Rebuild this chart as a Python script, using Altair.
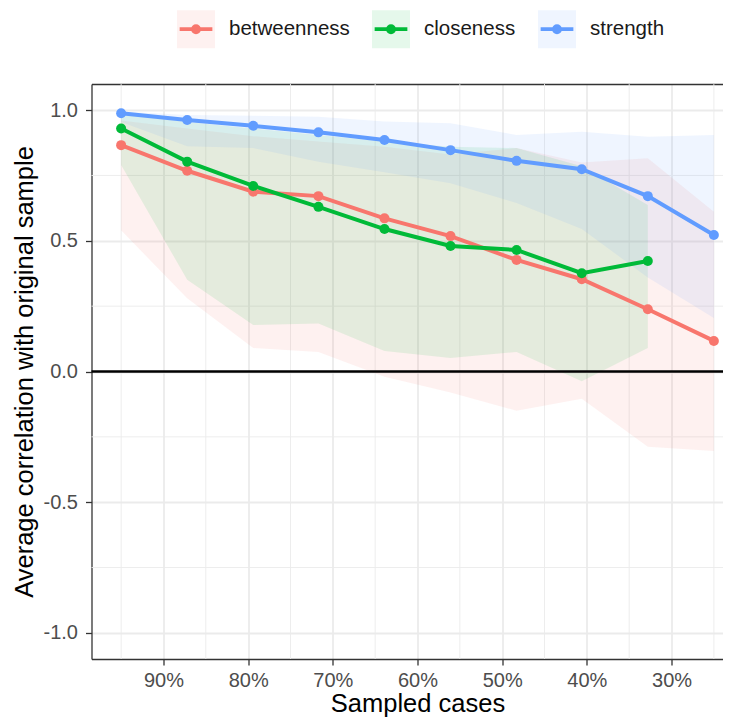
import altair as alt
import pandas as pd

FONT = "Liberation Sans"

series = ["betweenness", "closeness", "strength"]
colors = ["#F8766D", "#00BA38", "#619CFF"]
band_colors = ["rgba(248,118,109,0.1)", "rgba(0,186,56,0.1)", "rgba(97,156,255,0.1)"]

# proportion of sampled cases (%)
sampled = [95.0, 87.2, 79.4, 71.7, 63.9, 56.1, 48.3, 40.6, 32.8, 25.0]

betw_mean = [0.866, 0.768, 0.688, 0.671, 0.586, 0.518, 0.427, 0.353, 0.238, 0.117]
betw_lo = [0.54, 0.28, 0.09, 0.075, -0.02, -0.08, -0.15, -0.104, -0.288, -0.304]
betw_hi = [0.96, 0.93, 0.90, 0.88, 0.86, 0.83, 0.855, 0.80, 0.816, 0.611]

clos_mean = [0.930, 0.803, 0.710, 0.630, 0.545, 0.480, 0.465, 0.376, 0.423]
clos_lo = [0.79, 0.351, 0.178, 0.184, 0.078, 0.052, 0.075, -0.037, 0.09]
clos_hi = [0.985, 0.955, 0.93, 0.905, 0.88, 0.86, 0.855, 0.785, 0.637]

str_mean = [0.988, 0.962, 0.940, 0.915, 0.886, 0.847, 0.806, 0.774, 0.671, 0.522]
str_lo = [0.955, 0.862, 0.855, 0.803, 0.762, 0.72, 0.645, 0.545, 0.36, 0.205]
str_hi = [0.995, 0.981, 0.979, 0.975, 0.957, 0.95, 0.905, 0.917, 0.898, 0.905]

x_major = [90, 80, 70, 60, 50, 40, 30]
x_minor = [95, 85, 75, 65, 55, 45, 35, 25]
y_major = [-1.0, -0.5, 0.0, 0.5, 1.0]
y_minor = [-0.75, -0.25, 0.25, 0.75]
zero_line = [0.0]

rows = []
for name, m, lo, hi in [("betweenness", betw_mean, betw_lo, betw_hi),
                        ("closeness", clos_mean, clos_lo, clos_hi),
                        ("strength", str_mean, str_lo, str_hi)]:
    for i in range(len(m)):
        rows.append({"series": name, "x": sampled[i], "mean": m[i], "lo": lo[i], "hi": hi[i]})
df = pd.DataFrame(rows)

xscale = alt.Scale(domain=[21.5, 98.5], range=[652, 0], nice=False, zero=False)
yscale = alt.Scale(domain=[-1.1, 1.1], nice=False, zero=False)

xaxis = alt.Axis(
    orient="bottom", values=x_major, labelExpr="datum.value + '%'", title="Sampled cases",
    grid=True, gridColor="#EBEBEB", gridWidth=1.8,
    domain=True, domainColor="#333333", domainWidth=1.3,
    ticks=True, tickColor="#333333", tickWidth=1.3, tickSize=6,
    labelPadding=5, labelFontSize=20, labelColor="#4D4D4D", labelFont=FONT,
    labelFlush=False, labelOverlap=False,
    titleFont=FONT, titleFontSize=25.5, titleFontWeight="normal", titleColor="#000000",
    titleBaseline="alphabetic", titleY=52.5,
)
yaxis = alt.Axis(
    orient="left", values=y_major,
    labelExpr="datum.value < 0 ? '-' + format(-datum.value, '.1f') : format(datum.value, '.1f')",
    title="Average correlation with original sample",
    grid=True, gridColor="#EBEBEB", gridWidth=1.8,
    domain=True, domainColor="#333333", domainWidth=1.3,
    ticks=True, tickColor="#333333", tickWidth=1.3, tickSize=6,
    labelPadding=8, labelFontSize=20, labelColor="#4D4D4D", labelFont=FONT,
    labelFlush=False, labelOverlap=False,
    titleFont=FONT, titleFontSize=25.5, titleFontWeight="normal", titleColor="#000000",
    titleAngle=270, titleBaseline="alphabetic", titleAlign="center", titleX=-59.5, titleY=287.5,
)
top_axis = alt.Axis(orient="top", labels=False, ticks=False, grid=False, domain=True,
                    domainColor="#333333", domainWidth=1.3, title=None)

# legend key: translucent square + line + dot (dash pattern shows only the line part of the outline)
KEY_PATH = ("M-0.86,0H1V-1H-1V1H1V0Z "
            "M0.08,0A0.08,0.08,0,1,1,-0.08,0A0.08,0.08,0,1,1,0.08,0Z "
            "M0.16,0A0.16,0.16,0,1,1,-0.16,0A0.16,0.16,0,1,1,0.16,0Z")
legend_props = dict(orient="none", legendX=83.5, legendY=-76, direction="horizontal", title=None,
                    symbolType=KEY_PATH, symbolSize=1444, symbolStrokeWidth=3.8,
                    symbolDash=[32.7, 3000], symbolOpacity=1,
                    labelFontSize=20.5, labelFont=FONT, labelColor="#1A1A1A", labelOffset=12,
                    columnPadding=14, padding=0)

xminor = alt.Chart(pd.DataFrame({"v": x_minor})).mark_rule(color="#EBEBEB", strokeWidth=0.9).encode(
    x=alt.X("v:Q", scale=xscale, axis=top_axis))
yminor = alt.Chart(pd.DataFrame({"v": y_minor})).mark_rule(color="#EBEBEB", strokeWidth=0.9).encode(
    y=alt.Y("v:Q", scale=yscale, axis=yaxis))

area = alt.Chart(df).mark_area().encode(
    x=alt.X("x:Q", scale=xscale, axis=xaxis),
    y=alt.Y("lo:Q", scale=yscale, axis=yaxis),
    y2="hi:Q",
    fill=alt.Fill("series:N", scale=alt.Scale(domain=series, range=band_colors),
                  legend=alt.Legend(**legend_props)),
)

hline = alt.Chart(pd.DataFrame({"z": zero_line})).mark_rule(color="#000000", strokeWidth=2.4).encode(
    y=alt.Y("z:Q", scale=yscale, axis=yaxis))

line = alt.Chart(df).mark_line(strokeWidth=4).encode(
    x=alt.X("x:Q", scale=xscale, axis=None),
    y=alt.Y("mean:Q", scale=yscale, axis=yaxis),
    stroke=alt.Stroke("series:N", scale=alt.Scale(domain=series, range=colors),
                      legend=alt.Legend(**legend_props)),
)

pts = alt.Chart(df).mark_circle(size=100, opacity=1).encode(
    x=alt.X("x:Q", scale=xscale, axis=None),
    y=alt.Y("mean:Q", scale=yscale, axis=yaxis),
    color=alt.Color("series:N", scale=alt.Scale(domain=series, range=colors), legend=None),
)

chart = alt.layer(xminor, yminor, area, hline, line, pts).resolve_axis(
    x="independent"
).properties(
    width=631.5, height=575,
    autosize=alt.AutoSizeParams(type="none"),
    padding={"left": 83.5, "top": 76, "right": 0, "bottom": 59},
).configure(font=FONT).configure_view(stroke=None)

chart.save("out.html", embed_options={"renderer": "svg", "actions": False})
